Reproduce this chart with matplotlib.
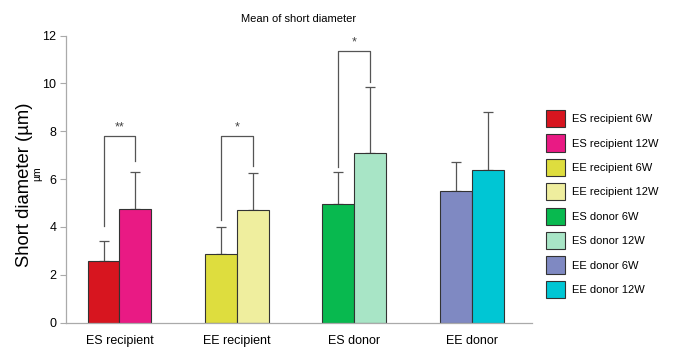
import numpy as np
import matplotlib
matplotlib.use("Agg")
import matplotlib.pyplot as plt
from matplotlib.patches import Patch

plt.rcParams['font.family'] = ['Liberation Sans', 'DejaVu Sans']

groups = ["ES recipient", "EE recipient", "ES donor", "EE donor"]
mean_6w = [2.58, 2.85, 4.95, 5.51]
mean_12w = [4.73, 4.72, 7.07, 6.36]
sd_6w = [0.82, 1.15, 1.33, 1.19]
sd_12w = [1.58, 1.53, 2.76, 2.43]
colors_6w = ["#D7151F", "#DEDD3E", "#08B94F", "#7F89C2"]
colors_12w = ["#E91A84", "#EFEE9E", "#A8E5C6", "#00C6D4"]
legend_labels = ["ES recipient 6W", "ES recipient 12W", "EE recipient 6W", "EE recipient 12W",
                 "ES donor 6W", "ES donor 12W", "EE donor 6W", "EE donor 12W"]

# significance brackets: group index, top, left leg end, right leg end, mark
br_group = [0, 1, 2]
br_top = [7.8, 7.8, 11.36]
br_left = [4.05, 4.28, 6.51]
br_right = [6.74, 6.54, 10.07]
br_mark = ["**", "*", "*"]

fig = plt.figure(figsize=(6.74, 3.47), dpi=100)
ax = fig.add_axes([0.098, 0.0706, 0.691, 0.827])

x = np.arange(len(groups))
w = 0.272
edge = "#333333"
errc = "#555555"
ax.bar(x - w/2, mean_6w, w, color=colors_6w, edgecolor=edge, linewidth=0.8, zorder=2)
ax.bar(x + w/2, mean_12w, w, color=colors_12w, edgecolor=edge, linewidth=0.8, zorder=2)
ax.errorbar(x - w/2, mean_6w, yerr=[np.zeros(4), sd_6w], fmt="none", ecolor=errc,
            elinewidth=0.9, capsize=3.3, capthick=0.9, zorder=1)
ax.errorbar(x + w/2, mean_12w, yerr=[np.zeros(4), sd_12w], fmt="none", ecolor=errc,
            elinewidth=0.9, capsize=3.3, capthick=0.9, zorder=1)

for g, t, l, r, m in zip(br_group, br_top, br_left, br_right, br_mark):
    xl, xr = g - w/2, g + w/2
    ax.plot([xl, xl, xr, xr], [l, t, t, r], color=errc, lw=0.9)
    ax.text(g, t + 0.1, m, ha="center", va="bottom", fontsize=9, color="#444444")

ax.set_xlim(-0.455, 3.51)
ax.set_ylim(0, 12)
ax.set_yticks(range(0, 13, 2))
ax.set_xticks(x)
ax.set_xticklabels(groups, fontsize=9)
ax.tick_params(axis="x", length=0, pad=9)
ax.tick_params(axis="y", labelsize=9, color="#aaaaaa", length=4, width=0.8, pad=3)
for s in ["top", "right"]:
    ax.spines[s].set_visible(False)
for s in ["left", "bottom"]:
    ax.spines[s].set_color("#aaaaaa")
    ax.spines[s].set_linewidth(0.9)

ax.set_ylabel("Short diameter (µm)", fontsize=13.3)
ax.yaxis.set_label_coords(-0.072, 0.479)
fig.text(0.055, 0.50, "µm", rotation=90, fontsize=7.5, ha="center", va="center")
ax.set_title("Mean of short diameter", fontsize=8, pad=10)

handles = []
for c6, c12 in zip(colors_6w, colors_12w):
    handles.append(Patch(facecolor=c6, edgecolor=edge, linewidth=0.8))
    handles.append(Patch(facecolor=c12, edgecolor=edge, linewidth=0.8))
fig.legend(handles, legend_labels, loc="center left", bbox_to_anchor=(0.795, 0.412),
           frameon=False, fontsize=8, handlelength=1.7, handleheight=2.0,
           handletextpad=0.7, labelspacing=0.65)

fig.savefig("out.png", dpi=100)
